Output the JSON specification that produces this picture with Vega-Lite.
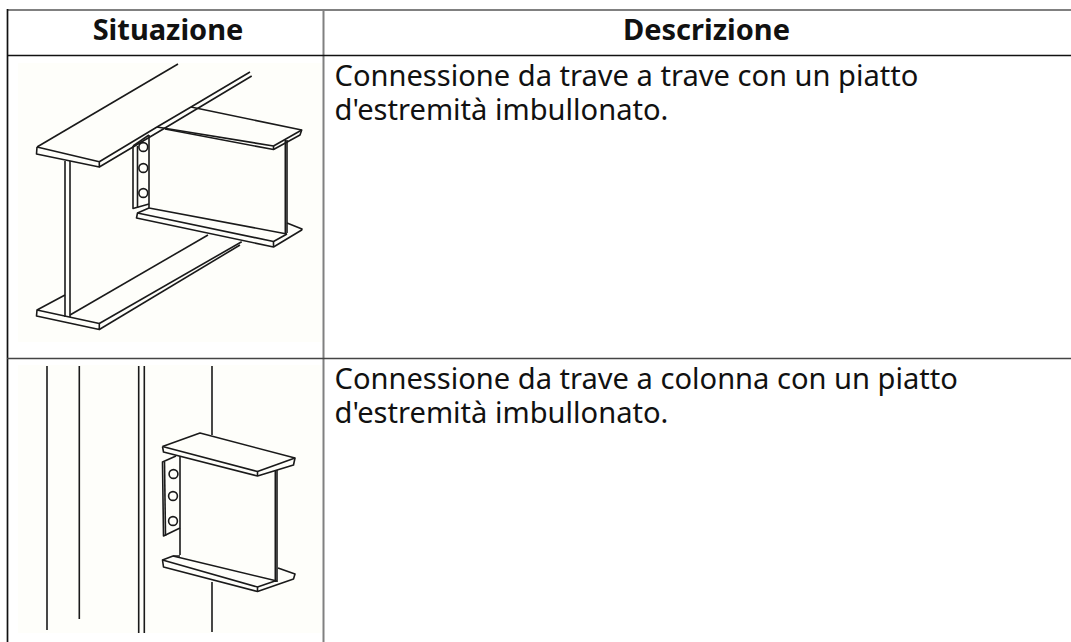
{"$schema":"https://vega.github.io/schema/vega-lite/v6.json","width":1071,"height":642,"padding":0,"autosize":"none","background":"#ffffff","view":{"stroke":null},
"datasets":{
"panels":[{"x":18,"x2":322.5,"y":63,"y2":342},{"x":18,"x2":322.5,"y":365,"y2":633}],
"grid":[
{"id":"top","c":"a","w":"t","x":7,"y":10},{"id":"top","c":"a","w":"t","x":1071,"y":10},
{"id":"left","c":"b","w":"n","x":7.5,"y":9},{"id":"left","c":"b","w":"n","x":7.5,"y":642},
{"id":"mid","c":"a","w":"t","x":323.5,"y":9},{"id":"mid","c":"a","w":"t","x":323.5,"y":642},
{"id":"h","c":"b","w":"n","x":7,"y":55.5},{"id":"h","c":"b","w":"n","x":1071,"y":55.5},
{"id":"r","c":"c","w":"n","x":7,"y":358.5},{"id":"r","c":"c","w":"n","x":1071,"y":358.5}],
"drawing":[
{"s":"a1","o":1,"x":37,"y":147},{"s":"a1","o":2,"x":178,"y":64},
{"s":"a2","o":1,"x":37,"y":147},{"s":"a2","o":2,"x":36.5,"y":154},{"s":"a2","o":3,"x":99.3,"y":167},{"s":"a2","o":4,"x":99.3,"y":161.7},{"s":"a2","o":5,"x":37,"y":147},
{"s":"a3","o":1,"x":99.3,"y":161.7},{"s":"a3","o":2,"x":157,"y":127},{"s":"a3","o":3,"x":191,"y":107},{"s":"a3","o":4,"x":250,"y":72},
{"s":"a4","o":1,"x":99.3,"y":167},{"s":"a4","o":2,"x":165,"y":128},{"s":"a4","o":3,"x":200,"y":107},{"s":"a4","o":4,"x":251.7,"y":76},
{"s":"a5","o":1,"x":65,"y":161},{"s":"a5","o":2,"x":65,"y":317},
{"s":"a6","o":1,"x":70,"y":161},{"s":"a6","o":2,"x":70,"y":317},
{"s":"a7","o":1,"x":65,"y":295},{"s":"a7","o":2,"x":37,"y":310},{"s":"a7","o":3,"x":36.5,"y":316},{"s":"a7","o":4,"x":99.3,"y":329.5},{"s":"a7","o":5,"x":99.3,"y":323.5},{"s":"a7","o":6,"x":37,"y":310},
{"s":"a8","o":1,"x":70,"y":315},{"s":"a8","o":2,"x":208,"y":235},
{"s":"a9","o":1,"x":99.3,"y":323.5},{"s":"a9","o":2,"x":241.7,"y":241.7},
{"s":"a10","o":1,"x":99.3,"y":329.5},{"s":"a10","o":2,"x":240,"y":245},
{"s":"a11","o":1,"x":191,"y":107},{"s":"a11","o":2,"x":301.7,"y":130},{"s":"a11","o":3,"x":300,"y":135},{"s":"a11","o":4,"x":273.5,"y":149.5},{"s":"a11","o":5,"x":165,"y":129},
{"s":"a12","o":1,"x":157,"y":127},{"s":"a12","o":2,"x":273.5,"y":146},{"s":"a12","o":3,"x":273.5,"y":149.5},
{"s":"a13","o":1,"x":273.5,"y":146},{"s":"a13","o":2,"x":301.7,"y":130},
{"s":"a14","o":1,"x":285.3,"y":140},{"s":"a14","o":2,"x":285.3,"y":233},
{"s":"a15","o":1,"x":287,"y":140},{"s":"a15","o":2,"x":287,"y":233},
{"s":"a16","o":1,"x":149,"y":135},{"s":"a16","o":2,"x":149,"y":208},{"s":"a16","o":3,"x":287,"y":234},
{"s":"a17","o":1,"x":133,"y":146},{"s":"a17","o":2,"x":133,"y":208.5},{"s":"a17","o":3,"x":149,"y":204},
{"s":"a18","o":1,"x":137.5,"y":146},{"s":"a18","o":2,"x":137.5,"y":208},
{"s":"a19","o":1,"x":133,"y":146},{"s":"a19","o":2,"x":149,"y":135},
{"s":"a20","o":1,"x":149,"y":208},{"s":"a20","o":2,"x":137.5,"y":213},{"s":"a20","o":3,"x":136.5,"y":218},{"s":"a20","o":4,"x":273.5,"y":247},{"s":"a20","o":5,"x":301.7,"y":230},{"s":"a20","o":6,"x":302,"y":229},{"s":"a20","o":7,"x":287,"y":223},
{"s":"a21","o":1,"x":137.5,"y":213},{"s":"a21","o":2,"x":273.5,"y":241.5},{"s":"a21","o":3,"x":287,"y":234},
{"s":"a22","o":1,"x":273.5,"y":241.5},{"s":"a22","o":2,"x":273.5,"y":247},
{"s":"b1","o":1,"x":47,"y":366},{"s":"b1","o":2,"x":47,"y":630},
{"s":"b2","o":1,"x":79.3,"y":366},{"s":"b2","o":2,"x":79.3,"y":619},
{"s":"b3","o":1,"x":138.7,"y":366},{"s":"b3","o":2,"x":138.7,"y":633},
{"s":"b4","o":1,"x":144.3,"y":366},{"s":"b4","o":2,"x":144.3,"y":633},
{"s":"b5","o":1,"x":212,"y":366},{"s":"b5","o":2,"x":212,"y":435},
{"s":"b6","o":1,"x":212,"y":582},{"s":"b6","o":2,"x":212,"y":632},
{"s":"b7","o":1,"x":162.5,"y":446.5},{"s":"b7","o":2,"x":200,"y":433},{"s":"b7","o":3,"x":295,"y":458},{"s":"b7","o":4,"x":293.5,"y":465},{"s":"b7","o":5,"x":257.5,"y":476},{"s":"b7","o":6,"x":163.5,"y":452},{"s":"b7","o":7,"x":162.5,"y":446.5},
{"s":"b8","o":1,"x":162.5,"y":446.5},{"s":"b8","o":2,"x":257.5,"y":471.5},{"s":"b8","o":3,"x":257.5,"y":476},
{"s":"b9","o":1,"x":257.5,"y":471.5},{"s":"b9","o":2,"x":295,"y":458},
{"s":"b10","o":1,"x":180,"y":456},{"s":"b10","o":2,"x":180,"y":555},
{"s":"b11","o":1,"x":275.3,"y":470},{"s":"b11","o":2,"x":275.3,"y":582},
{"s":"b12","o":1,"x":277,"y":470},{"s":"b12","o":2,"x":277,"y":582},
{"s":"b13","o":1,"x":176,"y":456},{"s":"b13","o":2,"x":162.5,"y":462},{"s":"b13","o":3,"x":163.5,"y":536},{"s":"b13","o":4,"x":180,"y":528},
{"s":"b14","o":1,"x":164.5,"y":462},{"s":"b14","o":2,"x":165.5,"y":536},
{"s":"b15","o":1,"x":180,"y":556},{"s":"b15","o":2,"x":173,"y":556},{"s":"b15","o":3,"x":162.5,"y":560},{"s":"b15","o":4,"x":163.5,"y":567},{"s":"b15","o":5,"x":257.5,"y":591.5},{"s":"b15","o":6,"x":293.5,"y":579},{"s":"b15","o":7,"x":295,"y":574},{"s":"b15","o":8,"x":278,"y":568},
{"s":"b16","o":1,"x":173,"y":556},{"s":"b16","o":2,"x":277,"y":581},
{"s":"b17","o":1,"x":162.5,"y":560},{"s":"b17","o":2,"x":257.5,"y":587},{"s":"b17","o":3,"x":257.5,"y":591.5},
{"s":"b18","o":1,"x":257.5,"y":587},{"s":"b18","o":2,"x":275,"y":581}],
"bolts":[{"x":143.3,"y":147},{"x":143.3,"y":168},{"x":143.3,"y":193},{"x":173.5,"y":474},{"x":173,"y":496},{"x":173,"y":521}],
"heads":[{"x":168,"y":40,"t":"Situazione"},{"x":706.5,"y":40,"t":"Descrizione"}],
"body":[{"x":334.5,"y":86,"t":"Connessione da trave a trave con un piatto\nd'estremità imbullonato."},{"x":334.5,"y":389,"t":"Connessione da trave a colonna con un piatto\nd'estremità imbullonato."}]
},
"encoding":{
"x":{"field":"x","type":"quantitative","scale":{"domain":[0,1071],"nice":false,"zero":false},"axis":null},
"y":{"field":"y","type":"quantitative","scale":{"domain":[642,0],"nice":false,"zero":false},"axis":null}},
"layer":[
{"data":{"name":"panels"},"mark":{"type":"rect","color":"#fefefa"},"encoding":{"x2":{"field":"x2"},"y2":{"field":"y2"}}},
{"data":{"name":"grid"},"mark":{"type":"line","strokeCap":"butt"},"encoding":{"detail":{"field":"id"},"strokeWidth":{"field":"w","type":"nominal","legend":null,"scale":{"domain":["n","t"],"range":[1.7,2]}},"color":{"field":"c","type":"nominal","legend":null,"scale":{"domain":["a","b","c"],"range":["#808080","#111111","#444444"]}}}},
{"data":{"name":"drawing"},"mark":{"type":"line","color":"#1a1a1a","strokeWidth":1.6,"strokeJoin":"round"},"encoding":{"detail":{"field":"s"},"order":{"field":"o","type":"quantitative"}}},
{"data":{"name":"bolts"},"mark":{"type":"point","shape":"circle","filled":false,"stroke":"#1a1a1a","strokeWidth":1.6,"size":78,"opacity":1}},
{"data":{"name":"heads"},"mark":{"type":"text","font":"Noto Sans","fontSize":29,"fontWeight":"bold","align":"center","baseline":"alphabetic","color":"#111111"},"encoding":{"text":{"field":"t"}}},
{"data":{"name":"body"},"mark":{"type":"text","font":"Noto Sans","fontSize":29.1,"align":"left","baseline":"alphabetic","color":"#111111","lineBreak":"\n","lineHeight":34},"encoding":{"text":{"field":"t"}}}
]}
